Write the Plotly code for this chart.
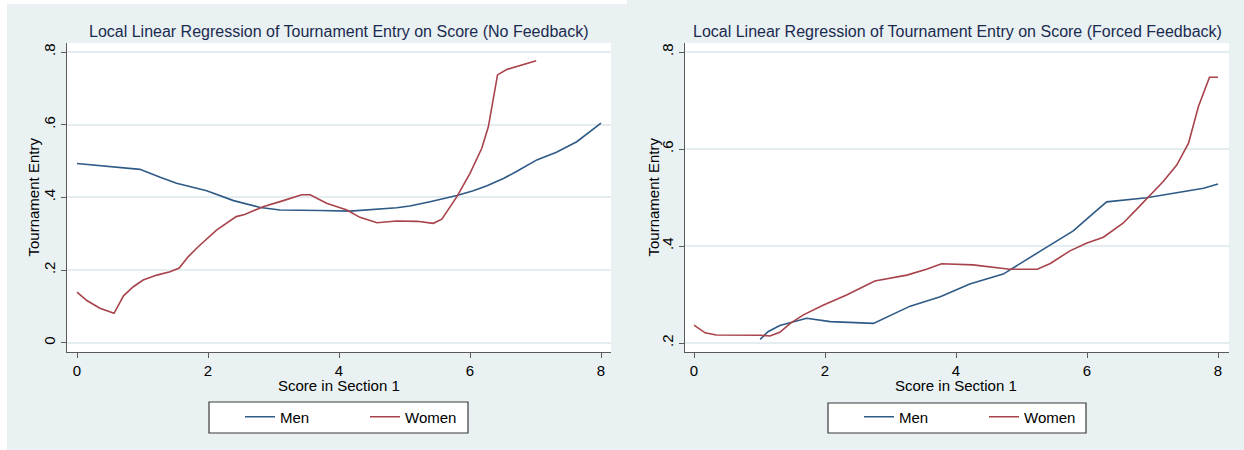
import plotly.graph_objects as go

# ---------------- data ----------------
# Panel 1: No Feedback
nf_men_x = [0, 0.96, 1.27, 1.52, 1.98, 2.39, 2.80, 3.10, 3.71, 4.17, 4.88, 5.08,
            5.39, 5.80, 6.05, 6.26, 6.51, 6.71, 7.02, 7.32, 7.63, 8.0]
nf_men_y = [0.493, 0.477, 0.455, 0.439, 0.418, 0.391, 0.372, 0.365, 0.364, 0.362, 0.3715, 0.376,
            0.388, 0.405, 0.418, 0.432, 0.452, 0.471, 0.503, 0.524, 0.553, 0.604]

nf_women_x = [0, 0.15, 0.35, 0.565, 0.71, 0.86, 1.01, 1.22, 1.42, 1.56, 1.70, 1.85,
              2.13, 2.43, 2.56, 2.84, 3.15, 3.43, 3.56, 3.81, 4.12, 4.32, 4.58, 4.88,
              5.19, 5.44, 5.57, 5.80, 6.00, 6.18, 6.28, 6.42, 6.56, 7.01]
nf_women_y = [0.139, 0.116, 0.095, 0.081, 0.129, 0.154, 0.1725, 0.186, 0.195, 0.2055, 0.237, 0.264,
              0.310, 0.347, 0.353, 0.374, 0.391, 0.407, 0.407, 0.384, 0.365, 0.345, 0.330, 0.335,
              0.334, 0.3285, 0.340, 0.402, 0.466, 0.535, 0.594, 0.737, 0.752, 0.776]

# Panel 2: Forced Feedback
ff_men_x = [1.01, 1.13, 1.31, 1.72, 2.08, 2.74, 3.30, 3.76, 4.21, 4.72, 5.33, 5.79,
            5.99, 6.30, 6.91, 7.47, 7.78, 8.0]
ff_men_y = [0.2076, 0.2233, 0.236, 0.251, 0.244, 0.2405, 0.276, 0.2955, 0.3215, 0.342, 0.393, 0.431,
            0.455, 0.491, 0.4996, 0.512, 0.519, 0.528]

ff_women_x = [0.0, 0.17, 0.34, 0.70, 1.01, 1.16, 1.31, 1.47, 1.67, 1.97, 2.33, 2.76,
              3.25, 3.55, 3.78, 4.26, 4.82, 5.24, 5.44, 5.74, 5.99, 6.25, 6.55, 6.76,
              6.96, 7.16, 7.37, 7.55, 7.70, 7.87, 8.0]
ff_women_y = [0.237, 0.221, 0.2165, 0.217, 0.216, 0.2145, 0.222, 0.2405, 0.258, 0.278, 0.299, 0.328,
              0.340, 0.352, 0.3635, 0.361, 0.352, 0.352, 0.364, 0.390, 0.4055, 0.418, 0.447, 0.476,
              0.505, 0.5325, 0.567, 0.612, 0.687, 0.748, 0.748]

x_ticks = [0, 2, 4, 6, 8]
x_tick_text = ["0", "2", "4", "6", "8"]
nf_y_ticks = [0, 0.2, 0.4, 0.6, 0.8]
nf_y_text = ["0", ".2", ".4", ".6", ".8"]
ff_y_ticks = [0.2, 0.4, 0.6, 0.8]
ff_y_text = [".2", ".4", ".6", ".8"]

titles = ["Local Linear Regression of Tournament Entry on Score (No Feedback)",
          "Local Linear Regression of Tournament Entry on Score (Forced Feedback)"]
x_title = "Score in Section 1"
y_title = "Tournament Entry"
series_names = ["Men", "Women"]

# ---------------- style ----------------
W, H = 1244, 450
BG = "rgb(233,241,243)"
GRID = "rgb(228,237,240)"
MEN_C = "#2f5a86"
WOMEN_C = "#a8424b"
FONT = "Liberation Sans, Arial, Helvetica, sans-serif"
TITLE_C = "#1b2b4f"

def px(x):
    return x / W

def py(y):
    return 1 - y / H

fig = go.Figure()

lw = 1.6
fig.add_trace(go.Scatter(x=nf_men_x, y=nf_men_y, mode="lines", name=series_names[0],
                         line=dict(color=MEN_C, width=lw), xaxis="x", yaxis="y", legend="legend"))
fig.add_trace(go.Scatter(x=nf_women_x, y=nf_women_y, mode="lines", name=series_names[1],
                         line=dict(color=WOMEN_C, width=lw), xaxis="x", yaxis="y", legend="legend"))
fig.add_trace(go.Scatter(x=ff_men_x, y=ff_men_y, mode="lines", name=series_names[0],
                         line=dict(color=MEN_C, width=lw), xaxis="x2", yaxis="y2", legend="legend2"))
fig.add_trace(go.Scatter(x=ff_women_x, y=ff_women_y, mode="lines", name=series_names[1],
                         line=dict(color=WOMEN_C, width=lw), xaxis="x2", yaxis="y2", legend="legend2"))

# plot-area pixel geometry
L1, R1 = 67, 611
L2, R2 = 685, 1229
TOP, BOT = 43, 352

axis_common = dict(showline=True, linecolor="#5a5a5a", linewidth=1.3, ticks="outside",
                   ticklen=5, tickwidth=1.2, tickcolor="#5a5a5a", zeroline=False,
                   tickfont=dict(family=FONT, size=15, color="black"), automargin=False,
                   mirror=False, fixedrange=True)

fig.update_layout(
    width=W, height=H,
    margin=dict(l=0, r=0, t=0, b=0),
    paper_bgcolor=BG, plot_bgcolor="white",
    font=dict(family=FONT, size=15, color="black"),
    xaxis=dict(domain=[px(L1), px(R1)], range=[-10 / 65.5, 8 + 10 / 65.5],
               tickvals=x_ticks, ticktext=x_tick_text, showgrid=False, anchor="y", **axis_common),
    yaxis=dict(domain=[py(BOT), py(TOP)], range=[-9.3 / 363.4, 0.8 + 9 / 363.4],
               tickvals=nf_y_ticks, ticktext=nf_y_text, tickangle=-90, showgrid=True,
               gridcolor=GRID, gridwidth=1.5, anchor="x", **axis_common),
    xaxis2=dict(domain=[px(L2), px(R2)], range=[-9 / 65.5, 8 + 11 / 65.5],
                tickvals=x_ticks, ticktext=x_tick_text, showgrid=False, anchor="y2", **axis_common),
    yaxis2=dict(domain=[py(BOT), py(TOP)], range=[0.2 - 9 / 485, 0.8 + 9 / 485],
                tickvals=ff_y_ticks, ticktext=ff_y_text, tickangle=-90, showgrid=True,
                gridcolor=GRID, gridwidth=1.5, anchor="x2", **axis_common),
    legend=dict(orientation="h", x=px(240), y=py(417), xanchor="left", yanchor="middle",
                bgcolor="rgba(0,0,0,0)", borderwidth=0, entrywidth=80, entrywidthmode="pixels",
                font=dict(family=FONT, size=15, color="black")),
    legend2=dict(orientation="h", x=px(859), y=py(417), xanchor="left", yanchor="middle",
                 bgcolor="rgba(0,0,0,0)", borderwidth=0, entrywidth=80, entrywidthmode="pixels",
                 font=dict(family=FONT, size=15, color="black")),
    showlegend=True,
)

# background details and legend boxes
shapes = [
    dict(type="rect", xref="paper", yref="paper", x0=0, x1=px(7), y0=0, y1=1,
         fillcolor="white", line=dict(width=0), layer="below"),
    dict(type="rect", xref="paper", yref="paper", x0=0, x1=px(627), y0=py(4), y1=1,
         fillcolor="white", line=dict(width=0), layer="below"),
    dict(type="rect", xref="paper", yref="paper", x0=px(209), x1=px(468), y0=py(433), y1=py(402),
         fillcolor="white", line=dict(color="#3a3a3a", width=1.2), layer="below"),
    dict(type="rect", xref="paper", yref="paper", x0=px(828), x1=px(1086), y0=py(433), y1=py(403),
         fillcolor="white", line=dict(color="#3a3a3a", width=1.2), layer="below"),
]
fig.update_layout(shapes=shapes)

ann = []
for cx, t in [(339, titles[0]), (957, titles[1])]:
    ann.append(dict(text=t, x=px(cx), y=py(31), xref="paper", yref="paper", showarrow=False,
                    xanchor="center", yanchor="middle",
                    font=dict(family=FONT, size=16, color=TITLE_C)))
for cx in [339, 956]:
    ann.append(dict(text=x_title, x=px(cx), y=py(385), xref="paper", yref="paper", showarrow=False,
                    xanchor="center", yanchor="middle",
                    font=dict(family=FONT, size=15, color="black")))
for cx in [33, 653]:
    ann.append(dict(text=y_title, x=px(cx), y=py(197.5), xref="paper", yref="paper", showarrow=False,
                    xanchor="center", yanchor="middle", textangle=-90,
                    font=dict(family=FONT, size=15, color="black")))
fig.update_layout(annotations=ann)

fig.write_html("out.html", config={"displayModeBar": False},
               post_script="document.body.style.margin='0';document.body.style.padding='0';")
